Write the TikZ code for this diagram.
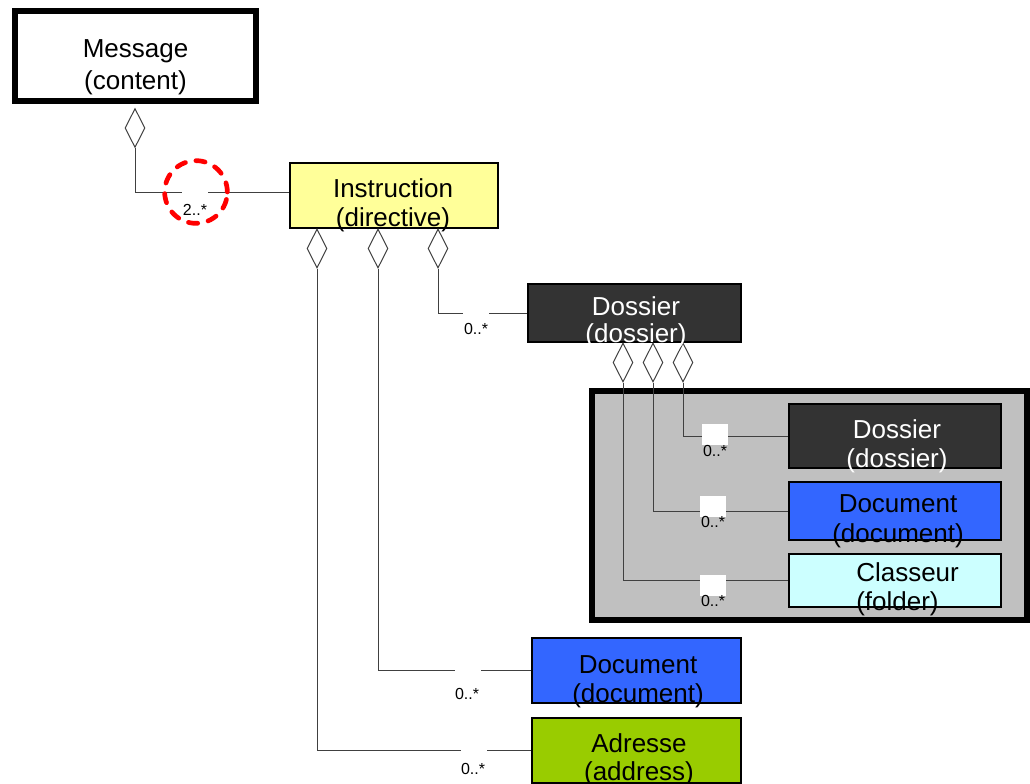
\documentclass[tikz,border=0pt]{standalone}
\usepackage{fontspec}
\setmainfont{Liberation Sans}
\usetikzlibrary{shapes.geometric,fit}
\definecolor{instrfill}{HTML}{FFFF99}
\definecolor{dossfill}{HTML}{333333}
\definecolor{docfill}{HTML}{3366FF}
\definecolor{classfill}{HTML}{CCFFFF}
\definecolor{adrfill}{HTML}{99CC00}
\definecolor{contfill}{HTML}{C0C0C0}
\definecolor{connline}{HTML}{404040}
\begin{document}
\begin{tikzpicture}[x=0.75pt,y=-0.75pt,
  box/.style={draw=black, line width=1.9pt, inner sep=0pt},
  bigbox/.style={draw=black, line width=4.5pt, inner sep=0pt},
  dia/.style={diamond, draw=connline, line width=0.75pt, fill=white, inner sep=0pt,
              minimum width=15pt, minimum height=29.25pt},
  conn/.style={draw=connline, line width=0.75pt},
  gapbox/.style={fill=white, inner sep=0pt, minimum width=19.5pt, minimum height=15.75pt},
  mult/.style={font=\fontsize{12}{14}\selectfont, inner sep=0pt, anchor=base},
  lbl/.style={font=\fontsize{19.5}{23}\selectfont, inner sep=0pt, anchor=base},
  hilite/.style={circle, draw=red, line width=3.5pt, dash pattern=on 7pt off 8pt,
                 line cap=round, inner sep=0pt, minimum size=47pt},
]
\useasboundingbox (0,0) rectangle (1030,783);
\clip (0,0) rectangle (1030,783);

% boxes
\node[bigbox, fill=white, fit={(15,11) (256,101)}] (msg) {};
\node[box, fill=instrfill, fit={(290,163) (498,228)}] (instr) {};
\node[box, fill=dossfill, fit={(528,284) (741,342)}] (doss) {};
\node[bigbox, fill=contfill, fit={(592,391) (1027,620)}] (cont) {};
\node[box, fill=dossfill, fit={(789,404) (1001,468)}] (idoss) {};
\node[box, fill=docfill, fit={(789,482) (1001,540)}] (idoc) {};
\node[box, fill=classfill, fit={(789,554) (1001,607)}] (iclass) {};
\node[box, fill=docfill, fit={(532,638) (741,703)}] (doc) {};
\node[box, fill=adrfill, fit={(532,718) (741,783)}] (adr) {};

% diamonds
\node[dia] (dm) at (135,128) {};
\node[dia] (di1) at (317,248.5) {};
\node[dia] (di2) at (378,248.5) {};
\node[dia] (di3) at (438,248.5) {};
\node[dia] (dd1) at (623,362.5) {};
\node[dia] (dd2) at (653,362.5) {};
\node[dia] (dd3) at (683,362.5) {};

% connectors
\draw[conn] (dm.south) |- ([yshift=2.625pt]instr.west);
\draw[conn] (di3.south) |- (doss.west);
\draw[conn] (di2.south) |- (doc.west);
\draw[conn] (di1.south) |- (adr.west);
\draw[conn] (dd3.south) |- (idoss.west);
\draw[conn] (dd2.south) |- (idoc.west);
\draw[conn] (dd1.south) |- (iclass.west);

% gaps
\node[gapbox] (g1) at (195,190.5) {};
\node[gapbox] (g2) at (476,311.5) {};
\node[gapbox] (g3) at (468,669.5) {};
\node[gapbox] (g4) at (474,748.5) {};
\node[gapbox] (g5) at (715,434.5) {};
\node[gapbox] (g6) at (713,506.5) {};
\node[gapbox] (g7) at (713,585.5) {};

% multiplicities
\node[mult] (m1) at (195,215) {2..*};
\node[mult] (m2) at (476,334) {0..*};
\node[mult] (m3) at (467,699) {0..*};
\node[mult] (m4) at (473,774) {0..*};
\node[mult] (m5) at (715,456) {0..*};
\node[mult] (m6) at (713,527) {0..*};
\node[mult] (m7) at (713,606) {0..*};

% highlight
\node[hilite] (hl) at (196,192) {};

% texts
\node[lbl] (t1a) at (135.5,57) {Message};
\node[lbl] (t1b) at (135.5,89) {(content)};
\node[lbl] (t2a) at (393,197) {Instruction};
\node[lbl] (t2b) at (393,226) {(directive)};
\node[lbl, text=white] (t3a) at (636,315) {Dossier};
\node[lbl, text=white] (t3b) at (636,342) {(dossier)};
\node[lbl, text=white] (t4a) at (897,438) {Dossier};
\node[lbl, text=white] (t4b) at (897,467) {(dossier)};
\node[lbl] (t5a) at (898,512) {Document};
\node[lbl] (t5b) at (898,542) {(document)};
\node[lbl, anchor=base west] (t6a) at (856,581) {Classeur};
\node[lbl, anchor=base west] (t6b) at (856,610) {(folder)};
\node[lbl] (t7a) at (638,673) {Document};
\node[lbl] (t7b) at (638,702) {(document)};
\node[lbl] (t8a) at (639,752) {Adresse};
\node[lbl] (t8b) at (639,780) {(address)};
\end{tikzpicture}
\end{document}
